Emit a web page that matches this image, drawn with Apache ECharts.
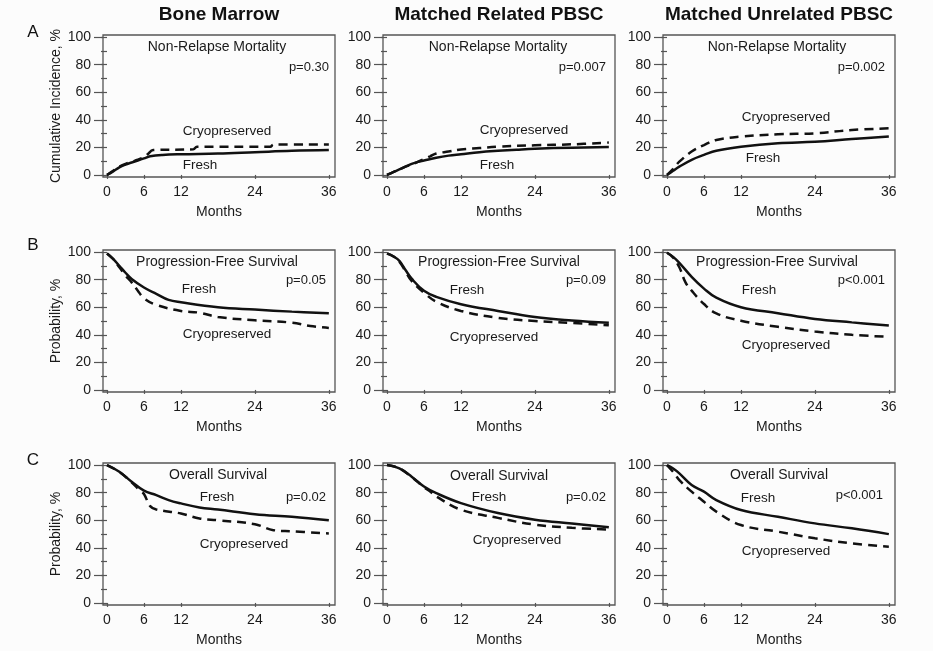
<!DOCTYPE html>
<html>
<head>
<meta charset="utf-8">
<script src="https://cdn.jsdelivr.net/npm/echarts@6/dist/echarts.min.js"></script>
<style>
html,body{margin:0;padding:0;background:#fcfcfc;}
#chart{width:933px;height:651px;}
</style>
</head>
<body>
<div id="chart"></div>
<script>
// ---------- DATA (months, percent) ----------
const columnTitles = ['Bone Marrow', 'Matched Related PBSC', 'Matched Unrelated PBSC'];
const rowLetters = ['A', 'B', 'C'];
const rowTitles = ['Non-Relapse Mortality', 'Progression-Free Survival', 'Overall Survival'];
const yAxisTitles = ['Cumulative Incidence, %', 'Probability, %', 'Probability, %'];
const xTickValues = [0, 6, 12, 24, 36];
const yLabelValues = [0, 20, 40, 60, 80, 100];
const yTickValues = [0, 10, 20, 30, 40, 50, 60, 70, 80, 90, 100];
const pValues = [
  ['p=0.30', 'p=0.007', 'p=0.002'],
  ['p=0.05', 'p=0.09', 'p<0.001'],
  ['p=0.02', 'p=0.02', 'p<0.001']
];

// Row A: Non-relapse mortality
const nrmBmFresh = [[0,0],[1,2.5],[2,5.5],[3,7.5],[4,9],[5,10.5],[6,12],[7,13.5],[9,14.5],[12,15],[18,15.5],[24,16.5],[30,17.5],[36,18]];
const nrmBmCryo = [[0,0],[1,3],[2,6],[3,8],[4,9.5],[5,11],[6,13],[6.6,15],[7.5,18],[14,18.6],[14.6,20.5],[26.5,20.5],[27,22],[36,22]];
const nrmMrFresh = [[0,0],[1,2],[2,4],[3,6],[4,8],[5,9.5],[6,10.5],[8,12.5],[10,14],[12,15],[15,16.5],[18,17.5],[21,18.3],[24,19],[30,19.8],[36,20.3]];
const nrmMrCryo = [[0,0],[1,2],[2,4],[3,6],[4,7.5],[5,9.5],[6,11.5],[7,13.5],[8,15.5],[10,17],[12,18.5],[15,19.5],[18,20.5],[24,21.5],[30,22.2],[36,23.5]];
const nrmMuFresh = [[0,0],[1,3],[2,6],[4,11],[6,14.5],[8,17.6],[12,20.5],[18,23],[24,24],[30,26],[36,27.8]];
const nrmMuCryo = [[0,0],[1,4.5],[2,9.6],[4,17],[6,21.7],[8,25.4],[12,27.8],[18,29.5],[24,30.2],[30,32.6],[36,33.8]];

// Row B: Progression-free survival
const pfsBmFresh = [[0,99],[1,95],[2,90],[3,85],[4,80.5],[6,74.3],[8,69.7],[10,65.3],[12,63.6],[18,60],[24,58.3],[30,56.8],[36,55.6]];
const pfsBmCryo = [[0,99],[1,95],[2,89],[3,83],[4,78],[5,72],[6,66.5],[8,61.7],[12,57.3],[15,56],[18,52.9],[24,50.5],[30,48.8],[33,46.4],[36,45]];
const pfsMrFresh = [[0,99],[1,97],[2,93.6],[3,87],[4,80.7],[6,71.9],[8,67.5],[12,62.2],[18,57.3],[24,52.9],[30,50.4],[36,48.7]];
const pfsMrCryo = [[0,99],[1,97],[2,93],[3,86],[4,79],[6,70.5],[8,64],[12,57.3],[18,52.3],[24,50],[30,48.6],[36,46.9]];
const pfsMuFresh = [[0,99.5],[1,96.5],[2,92.2],[4,82],[6,73.5],[8,66.9],[12,60],[18,55.7],[24,51.5],[30,49],[36,46.7]];
const pfsMuCryo = [[0,99.5],[1,96],[2,89],[3,78],[4,72],[6,62.3],[8,55.5],[12,50.2],[18,45.8],[24,42.4],[30,40],[36,38.5]];

// Row C: Overall survival
const osBmFresh = [[0,100],[2,95.2],[4,87.9],[6,81.4],[8,78.2],[10,74.6],[12,72.2],[15,69.3],[18,67.8],[24,64.4],[30,62.5],[36,60]];
const osBmCryo = [[0,100],[2,95],[4,87.5],[5.5,80.7],[6,79],[7,70.2],[8,67.8],[12,64.9],[15,61.3],[18,60],[24,57.1],[27,52.8],[30,52],[36,50.4]];
const osMrFresh = [[0,100],[2,97.6],[4,91.6],[6,84.4],[8,79.6],[12,72.4],[18,65.2],[24,60.4],[30,57.6],[36,54.9]];
const osMrCryo = [[0,100],[2,97.6],[4,91.3],[6,84],[7,80.8],[8,77.2],[12,67.6],[18,61.7],[24,56.8],[30,54.5],[36,53.2]];
const osMuFresh = [[0,100],[1,97.5],[2,94],[4,85.5],[6,80.7],[8,74.6],[12,67.4],[18,62.5],[24,57.7],[30,54.1],[36,49.9]];
const osMuCryo = [[0,100],[1,95],[2,89.1],[4,80.7],[6,73.4],[8,66.2],[12,56.5],[18,51.7],[24,46.9],[30,43.2],[36,40.8]];

const freshSeries = [
  [nrmBmFresh, nrmMrFresh, nrmMuFresh],
  [pfsBmFresh, pfsMrFresh, pfsMuFresh],
  [osBmFresh, osMrFresh, osMuFresh]
];
const cryoSeries = [
  [nrmBmCryo, nrmMrCryo, nrmMuCryo],
  [pfsBmCryo, pfsMrCryo, pfsMuCryo],
  [osBmCryo, osMrCryo, osMuCryo]
];

// ---------- LAYOUT ----------
const colLeft = [103, 383, 663];
const boxWidth = 232;
const rowTop = [35, 250, 463];
const boxHeight = 142;
const FONT = '"Liberation Sans", Arial, sans-serif';
const INK = '#1a1a1a';

// label placements inside each panel, pixel offsets from box left/top
const annot = [
  [ [[114,12],[226,32],[97,130],[124,96]], [[115,12],[223,32],[114,130],[141,95]], [[114,12],[222,32],[100,123],[123,82]] ],
  [ [[114,12],[223,30],[96,39],[124,84]],  [[116,12],[223,30],[84,40],[111,87]],   [[114,12],[222,30],[96,40],[123,95]] ],
  [ [[115,12],[223,34],[114,34],[141,81]], [[116,13],[223,34],[106,34],[134,77]],  [[116,12],[220,32],[95,35],[123,88]] ]
];

const grids = [], xAxes = [], yAxes = [], series = [], graphics = [];
let g = 0;
for (let r = 0; r < 3; r++) {
  for (let c = 0; c < 3; c++) {
    grids.push({
      left: colLeft[c], top: rowTop[r], width: boxWidth, height: boxHeight,
      show: true, borderColor: '#555', borderWidth: 1.3, backgroundColor: 'transparent', containLabel: false
    });
    xAxes.push({
      type: 'value', gridIndex: g, min: -0.65, max: 37,
      axisLine: { show: false },
      splitLine: { show: false },
      axisTick: { show: true, length: 4, customValues: xTickValues, lineStyle: { color: '#555', width: 1.2 } },
      axisLabel: { customValues: xTickValues, fontSize: 14, color: INK, fontFamily: FONT, margin: 8 },
      name: 'Months', nameLocation: 'middle', nameGap: 28,
      nameTextStyle: { fontSize: 14, color: INK, fontFamily: FONT }
    });
    yAxes.push({
      type: 'value', gridIndex: g, min: -1.5, max: 101.5,
      axisLine: { show: false },
      splitLine: { show: false },
      axisTick: { show: true, length: 6, customValues: yTickValues, lineStyle: { color: '#555', width: 1.2 } },
      axisLabel: { customValues: yLabelValues, fontSize: 14, color: INK, fontFamily: FONT, margin: 12 },
      name: c === 0 ? yAxisTitles[r] : '', nameLocation: 'middle', nameGap: 40, nameRotate: 90,
      nameTextStyle: { fontSize: 14, color: INK, fontFamily: FONT }
    });
    yAxes.push({
      type: 'value', gridIndex: g, min: -1.5, max: 101.5, position: 'left',
      axisLine: { show: false }, splitLine: { show: false },
      axisTick: { show: true, length: 9, customValues: yLabelValues, lineStyle: { color: '#555', width: 1.2 } },
      axisLabel: { show: false }
    });
    series.push({
      type: 'line', name: 'Fresh', xAxisIndex: g, yAxisIndex: 2 * g, data: freshSeries[r][c],
      showSymbol: false, smooth: 0.4,
      lineStyle: { color: '#111', width: 2.5 }, silent: true, animation: false
    });
    series.push({
      type: 'line', name: 'Cryopreserved', xAxisIndex: g, yAxisIndex: 2 * g, data: cryoSeries[r][c],
      showSymbol: false, smooth: 0.4,
      lineStyle: { color: '#111', width: 2.5, type: [9, 6] }, silent: true, animation: false
    });
    const a = annot[r][c];
    const L = colLeft[c], T = rowTop[r];
    graphics.push({ type: 'text', x: L + a[0][0], y: T + a[0][1], style: { text: rowTitles[r], font: '14px ' + FONT, fill: INK, textAlign: 'center', textVerticalAlign: 'middle' } });
    graphics.push({ type: 'text', x: L + a[1][0], y: T + a[1][1], style: { text: pValues[r][c], font: '13px ' + FONT, fill: INK, textAlign: 'right', textVerticalAlign: 'middle' } });
    graphics.push({ type: 'text', x: L + a[2][0], y: T + a[2][1], style: { text: 'Fresh', font: '13.5px ' + FONT, fill: INK, textAlign: 'center', textVerticalAlign: 'middle' } });
    graphics.push({ type: 'text', x: L + a[3][0], y: T + a[3][1], style: { text: 'Cryopreserved', font: '13.5px ' + FONT, fill: INK, textAlign: 'center', textVerticalAlign: 'middle' } });
    g++;
  }
}
for (let c = 0; c < 3; c++) {
  graphics.push({ type: 'text', x: colLeft[c] + boxWidth / 2, y: 15, style: { text: columnTitles[c], font: 'bold 19px ' + FONT, fill: '#111', textAlign: 'center', textVerticalAlign: 'middle' } });
}
const letterY = [32, 245, 460];
for (let r = 0; r < 3; r++) {
  graphics.push({ type: 'text', x: 33, y: letterY[r], style: { text: rowLetters[r], font: '17px ' + FONT, fill: '#111', textAlign: 'center', textVerticalAlign: 'middle' } });
}

const chart = echarts.init(document.getElementById('chart'), null, { renderer: 'canvas' });
chart.setOption({
  backgroundColor: '#fcfcfc',
  animation: false,
  grid: grids,
  xAxis: xAxes,
  yAxis: yAxes,
  series: series,
  graphic: graphics
});
</script>
</body>
</html>
